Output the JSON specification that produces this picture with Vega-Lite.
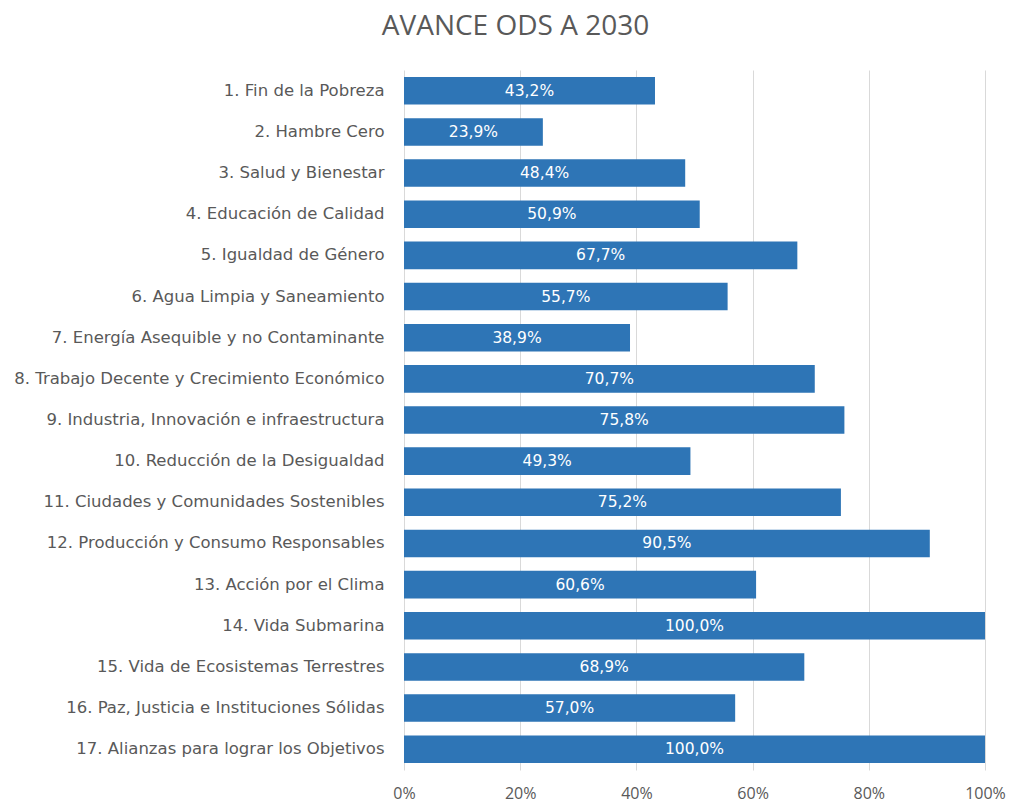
{
  "$schema": "https://vega.github.io/schema/vega-lite/v6.json",
  "autosize": "none",
  "width": 581,
  "height": 700,
  "padding": {"left": 404, "top": 70, "right": 25, "bottom": 32},
  "background": "white",
  "title": {
    "text": "AVANCE ODS A 2030",
    "font": "Open Sans",
    "fontSize": 28,
    "fontWeight": "normal",
    "color": "#595959",
    "anchor": "middle",
    "frame": "group",
    "dx": -179,
    "offset": 29
  },
  "config": {
    "locale": {"number": {"decimal": ",", "thousands": ".", "grouping": [3], "currency": ["", " €"]}},
    "view": {"stroke": null},
    "font": "Open Sans"
  },
  "data": {
    "values": [
      {"ods": "1. Fin de la Pobreza", "avance": 0.432},
      {"ods": "2. Hambre Cero", "avance": 0.239},
      {"ods": "3. Salud y Bienestar", "avance": 0.484},
      {"ods": "4. Educación de Calidad", "avance": 0.509},
      {"ods": "5. Igualdad de Género", "avance": 0.677},
      {"ods": "6. Agua Limpia y Saneamiento", "avance": 0.557},
      {"ods": "7. Energía Asequible y no Contaminante", "avance": 0.389},
      {"ods": "8. Trabajo Decente y Crecimiento Económico", "avance": 0.707},
      {"ods": "9. Industria, Innovación e infraestructura", "avance": 0.758},
      {"ods": "10. Reducción de la Desigualdad", "avance": 0.493},
      {"ods": "11. Ciudades y Comunidades Sostenibles", "avance": 0.752},
      {"ods": "12. Producción y Consumo Responsables", "avance": 0.905},
      {"ods": "13. Acción por el Clima", "avance": 0.606},
      {"ods": "14. Vida Submarina", "avance": 1.0},
      {"ods": "15. Vida de Ecosistemas Terrestres", "avance": 0.689},
      {"ods": "16. Paz, Justicia e Instituciones Sólidas", "avance": 0.57},
      {"ods": "17. Alianzas para lograr los Objetivos", "avance": 1.0}
    ]
  },
  "encoding": {
    "y": {
      "field": "ods",
      "type": "nominal",
      "sort": null,
      "scale": {"paddingInner": 0.33, "paddingOuter": 0.17},
      "axis": {
        "title": null,
        "ticks": false,
        "domain": false,
        "labelFont": "DejaVu Sans",
        "labelFontSize": 16.5,
        "labelColor": "#595959",
        "labelPadding": 20,
        "labelLimit": 420
      }
    }
  },
  "layer": [
    {
      "mark": {"type": "bar", "color": "#2E75B6"},
      "encoding": {
        "x": {
          "field": "avance",
          "type": "quantitative",
          "scale": {"domain": [0, 1]},
          "axis": {
            "title": null,
            "format": ".0%",
            "values": [0, 0.2, 0.4, 0.6, 0.8, 1],
            "grid": true,
            "gridColor": "#D9D9D9",
            "ticks": false,
            "domain": false,
            "labelFlush": false,
            "labelFont": "Open Sans",
            "labelFontSize": 16,
            "labelColor": "#595959",
            "labelPadding": 15
          }
        }
      }
    },
    {
      "mark": {"type": "text", "color": "white", "fontSize": 15.5, "font": "DejaVu Sans", "baseline": "middle", "align": "center"},
      "encoding": {
        "x": {"field": "avance", "type": "quantitative", "scale": {"domain": [0, 2]}, "axis": null},
        "text": {"field": "avance", "type": "quantitative", "format": ".1%"}
      }
    }
  ],
  "resolve": {"scale": {"x": "independent"}, "axis": {"x": "independent"}}
}
